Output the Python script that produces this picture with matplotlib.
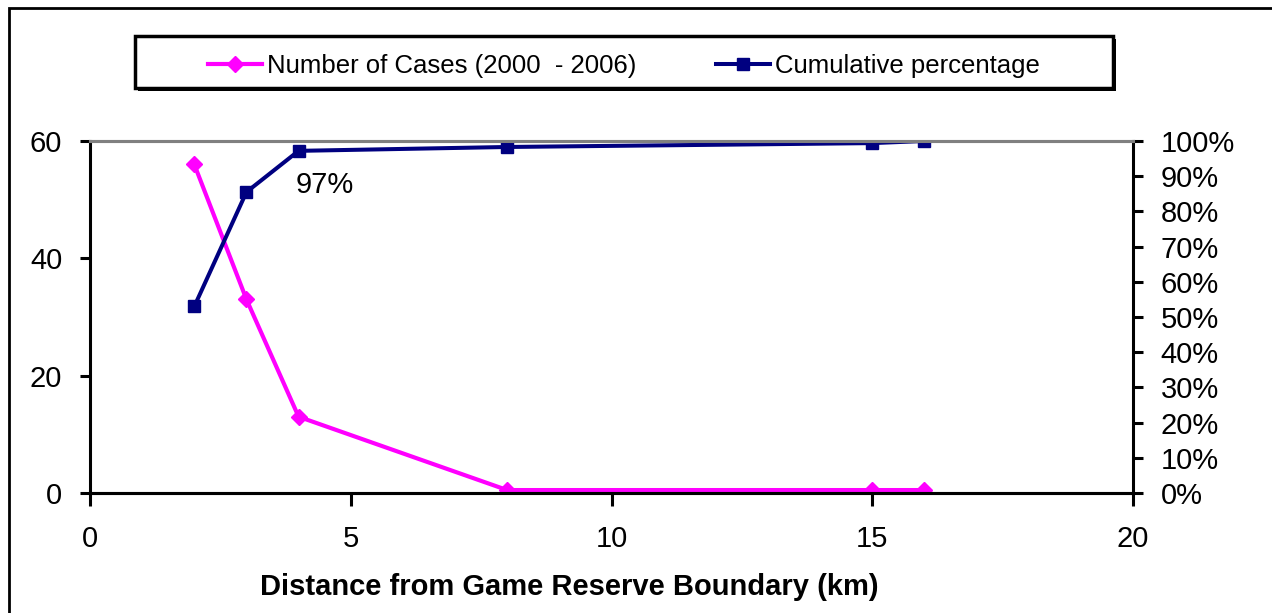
import matplotlib
matplotlib.use("Agg")
import matplotlib.pyplot as plt
from matplotlib.patches import Rectangle
from matplotlib.ticker import FuncFormatter

plt.rcParams['font.family'] = ['Liberation Sans', 'DejaVu Sans']

# data
distance = [2, 3, 4, 8, 15, 16]
cases = [56, 33, 13, 0.5, 0.5, 0.5]
cumulative = [0.53, 0.855, 0.972, 0.983, 0.994, 1.0]
left_ticks = [0, 20, 40, 60]
right_ticks = [i / 10 for i in range(11)]
x_ticks = [0, 5, 10, 15, 20]

pink = '#ff00ff'
navy = '#000080'
W, H = 1272, 613

fig = plt.figure(figsize=(12.72, 6.13), dpi=100)
ax = fig.add_axes([90 / W, 1 - 493 / H, (1133 - 90) / W, (493 - 141) / H])
ax2 = ax.twinx()

l1, = ax.plot(distance, cases, color=pink, lw=3, marker='D', ms=8,
              label='Number of Cases (2000  - 2006)')
l2, = ax2.plot(distance, cumulative, color=navy, lw=2.9, marker='s', ms=8.5,
               label='Cumulative percentage')

ax.set_xlim(0, 20)
ax.set_ylim(0, 60)
ax2.set_ylim(0, 1)
ax.set_xticks(x_ticks)
ax.set_yticks(left_ticks)
ax2.set_yticks(right_ticks)
ax2.yaxis.set_major_formatter(FuncFormatter(lambda v, p: f'{v * 100:.0f}%'))

for a in (ax, ax2):
    for s in a.spines.values():
        s.set_linewidth(2.2)
        s.set_color('black')
    a.spines['top'].set_color('#808080')
    a.tick_params(labelsize=21, width=2.2, length=7, direction='out')
ax2.spines['left'].set_visible(False)
ax.spines['right'].set_visible(False)
ax.tick_params(axis='x', pad=14, length=9)
ax.tick_params(axis='y', pad=13)
ax2.tick_params(axis='y', pad=13)

ax2.text(3.95, 0.875, '97%', fontsize=21, ha='left', va='center')

ax.set_xlabel('Distance from Game Reserve Boundary (km)', fontsize=21,
              fontweight='bold')
ax.xaxis.set_label_coords((569 - 90) / (1133 - 90), -0.227)

# legend box with a small shadow, drawn by hand
bx, by, bw, bh = 135 / W, 1 - 88 / H, (1113 - 135) / W, 52 / H
fig.patches.append(Rectangle((bx + 3 / W, by - 3 / H), bw, bh, transform=fig.transFigure,
                             facecolor='black', edgecolor='black', lw=0, zorder=1))
fig.patches.append(Rectangle((bx, by), bw, bh, transform=fig.transFigure,
                             facecolor='white', edgecolor='black', lw=2.5, zorder=2))
fig.legend(handles=[l1, l2], loc='center', ncol=2, frameon=False,
           bbox_to_anchor=(bx + bw / 2, by + bh / 2 - 4 / H), fontsize=18.5,
           handlelength=2.1, handletextpad=0.2, columnspacing=3.1,
           borderaxespad=0)

fig.patches.append(Rectangle((9 / W, -0.1), 1.2, 1.1 - 8 / H,
                             transform=fig.transFigure, fill=False,
                             edgecolor='black', lw=2, zorder=0))

fig.savefig('out.png', dpi=100)
